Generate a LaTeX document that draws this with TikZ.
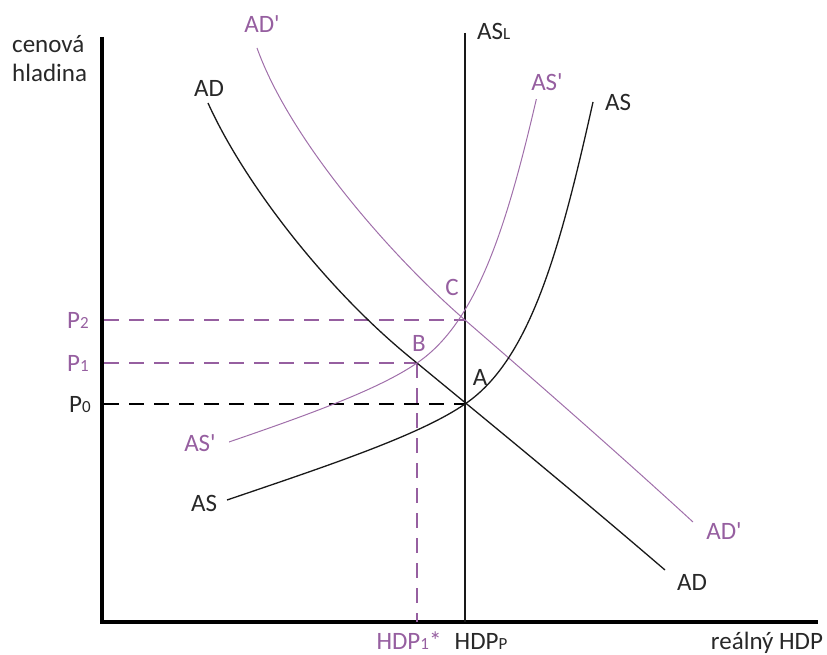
\documentclass[tikz,border=0pt]{standalone}
\usepackage{fontspec}
\newfontfamily\carl{Carlito}
\definecolor{pur}{RGB}{150,95,160}
\definecolor{ink}{RGB}{40,40,40}
\newcommand{\smx}[1]{{\fontsize{17}{17}\selectfont #1}}
\begin{document}
\begin{tikzpicture}[x=1pt,y=-1pt,
  font=\carl\fontsize{25}{28}\selectfont,
  lbl/.style={inner sep=0pt, text=ink, anchor=base},
  plbl/.style={inner sep=0pt, text=pur, anchor=base},
  axis/.style={line width=4pt, black},
  curve/.style={line width=1.3pt, black!90},
  pcurve/.style={line width=1pt, pur!90},
  guide/.style={line width=1.2pt, dash pattern=on 15pt off 10pt}]
\useasboundingbox (0,0) rectangle (827,655);
% key points
\coordinate (O) at (102,622);
\coordinate (Ytop) at (102,37);
\coordinate (Xend) at (818,622);
\coordinate (ASLtop) at (465,33);
\coordinate (ASLbot) at (465,622);
\coordinate (A) at (465,404);
\coordinate (B) at (417,363);
\coordinate (C) at (465,320);
\coordinate (B0) at (417,622);
\coordinate (P0a) at (104,404);
\coordinate (P1a) at (104,363);
\coordinate (P2a) at (104,320);
% axes
\draw[axis] (Ytop) -- (O) -- (Xend);
% long-run AS
\draw[curve] (ASLtop) -- (ASLbot);
% guides
\draw[guide, black] (P0a) -- (A);
\draw[guide, pur] (P1a) -- (B);
\draw[guide, pur] (P2a) -- (C);
\draw[guide, pur] (B) -- (B0);
% AD
\draw[curve] (208,103) .. controls (245,185) and (330,294) .. (B)
  .. controls (480,415) and (560,480) .. (665,570);
% AD'
\draw[pcurve] (257,48) .. controls (290,140) and (390,255) .. (C)
  .. controls (540,385) and (620,455) .. (693,522);
% AS
\draw[curve] (227,500) .. controls (330,465) and (420,435) .. (A)
  .. controls (530,360) and (560,250) .. (593,102);
% AS' (AS shifted to pass through B and C)
\begin{scope}
\clip (229,100) rectangle (827,655);
\draw[pcurve, shift={(-48,-41)}] (227,500) .. controls (330,465) and (420,435) .. (465,404)
  .. controls (530,360) and (560,250) .. (593,102);
\end{scope}
% labels
\node[lbl, anchor=base west] (yl1) at (12,53) {cenová};
\node[lbl, anchor=base west] (yl2) at (12,82) {hladina};
\node[plbl] (adp1) at (262,33) {AD'};
\node[lbl] (ad1) at (209,97) {AD};
\node[lbl, anchor=base west] (asl) at (477,40) {AS\smx{L}};
\node[plbl] (asp1) at (547,91) {AS'};
\node[lbl] (as1) at (618,111) {AS};
\node[plbl] (lc) at (452,295) {C};
\node[plbl] (lb) at (419,351) {B};
\node[lbl] (la) at (480,385) {A};
\node[plbl] (p2) at (78,328) {P\smx{2}};
\node[plbl] (p1) at (78,371) {P\smx{1}};
\node[lbl] (p0) at (80,412) {P\smx{0}};
\node[plbl] (asp2) at (200,451) {AS'};
\node[lbl] (as2) at (204,511) {AS};
\node[plbl] (adp2) at (724,539) {AD'};
\node[lbl] (ad2) at (692,590) {AD};
\node[plbl] (h1) at (409,649) {HDP\smx{1}*};
\node[lbl] (hp) at (481,649) {HDP\smx{P}};
\node[lbl] (rh) at (767,649) {reálný HDP};
\end{tikzpicture}
\end{document}
